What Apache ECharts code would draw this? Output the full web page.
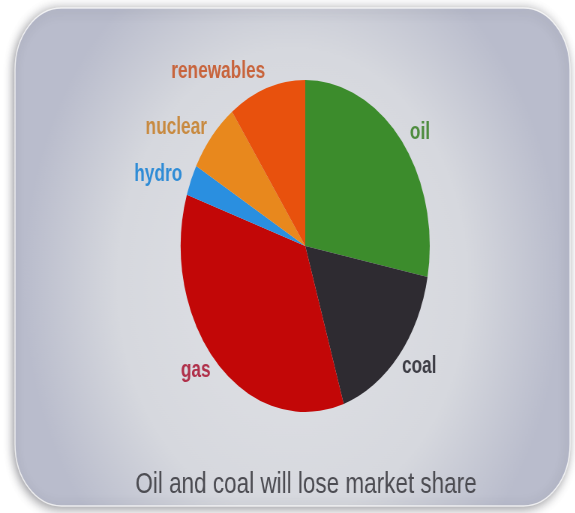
<!DOCTYPE html>
<html>
<head>
<meta charset="utf-8">
<script src="https://cdn.jsdelivr.net/npm/echarts@6/dist/echarts.min.js"></script>
<style>
  html, body { margin: 0; padding: 0; background: #ffffff; overflow: hidden; }
  #wrap { width: 575px; height: 513px; overflow: hidden; position: relative; }
  /* the slide is drawn in a wider space and compressed horizontally */
  #chart { width: 767px; height: 513px; transform: scaleX(0.75); transform-origin: 0 0; }
</style>
</head>
<body>
<div id="wrap"><div id="chart"></div></div>
<script>
// Energy mix shares (%)
var sources = ['oil', 'coal', 'gas', 'hydro', 'nuclear', 'renewables'];
var shares = [28, 17, 35, 3, 7, 10];
var titleText = 'Oil and coal will lose market share';

// styling
var sliceColors = ['#3c8c2c', '#2e2b31', '#c20707', '#2a8fe0', '#e8881d', '#e8510d'];
var labelColors = ['#4e8c3e', '#3d3d45', '#b0304a', '#2f8cd6', '#c88a40', '#c8643c'];
// label anchor points in the (uncompressed) drawing space
var labelPos = [[560, 133], [559, 367], [261, 371], [211, 175], [235, 128], [291, 72]];

var chart = echarts.init(document.getElementById('chart'), null, { renderer: 'canvas' });

var pieData = sources.map(function (name, i) {
  return {
    name: name,
    value: shares[i],
    itemStyle: { color: sliceColors[i] },
    label: { color: labelColors[i] }
  };
});

chart.setOption({
  backgroundColor: '#ffffff',
  animation: false,
  graphic: [
    {
      type: 'rect',
      z: -10,
      shape: { x: 20, y: 8, width: 740, height: 498, r: 62 },
      style: {
        fill: {
          type: 'radial', x: 0.5, y: 0.55, r: 0.72,
          colorStops: [
            { offset: 0, color: '#e1e2e6' },
            { offset: 0.65, color: '#d6d8de' },
            { offset: 1, color: '#b9bccc' }
          ]
        },
        stroke: 'rgba(255,255,255,0.75)',
        lineWidth: 1.5,
        shadowBlur: 12,
        shadowOffsetX: -2,
        shadowOffsetY: 2,
        shadowColor: 'rgba(40,40,50,0.5)'
      }
    }
  ],
  title: {
    text: titleText,
    left: 403,
    top: 465,
    textAlign: 'center',
    textStyle: {
      fontFamily: 'Liberation Sans, Arial, sans-serif',
      fontSize: 30,
      fontWeight: 'normal',
      color: '#4c4c52'
    }
  },
  series: [
    {
      type: 'pie',
      center: [407, 246],
      radius: 166,
      startAngle: 90,
      clockwise: true,
      data: pieData,
      label: {
        show: true,
        position: 'outside',
        formatter: '{b}',
        fontFamily: 'Liberation Sans, Arial, sans-serif',
        fontSize: 23,
        fontWeight: 'bold'
      },
      labelLine: { show: false },
      labelLayout: function (params) {
        var p = labelPos[params.dataIndex];
        return { x: p[0], y: p[1], align: 'center', verticalAlign: 'middle' };
      },
      emphasis: { disabled: true }
    }
  ]
});
</script>
</body>
</html>
